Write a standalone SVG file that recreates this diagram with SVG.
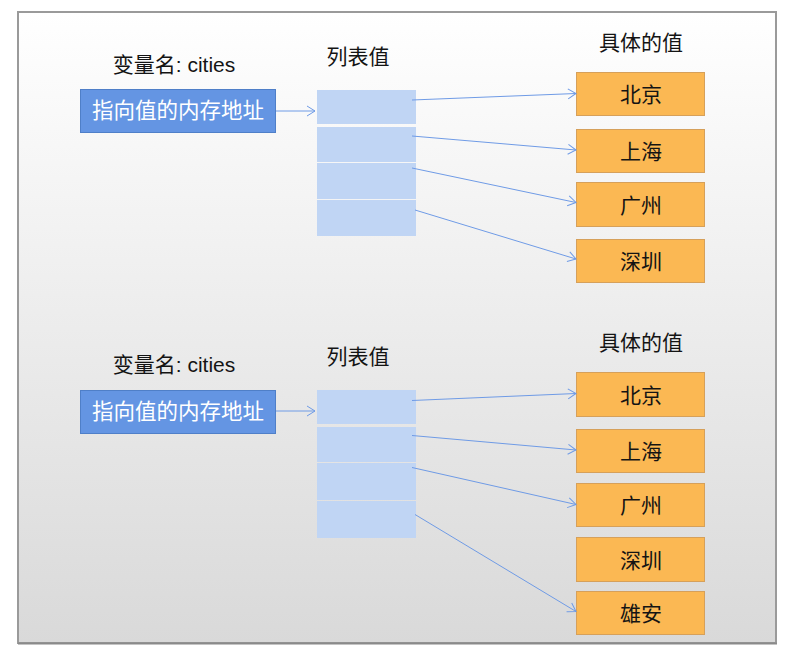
<svg xmlns="http://www.w3.org/2000/svg" width="788" height="654" viewBox="0 0 788 654">
<defs>
<linearGradient id="bg" x1="0" y1="0" x2="0" y2="1">
<stop offset="0" stop-color="#ffffff"/>
<stop offset="1" stop-color="#d9d9d9"/>
</linearGradient>
<marker id="ah" markerUnits="userSpaceOnUse" markerWidth="12" markerHeight="12" refX="9" refY="5" orient="auto" overflow="visible">
<path d="M1,0 L9,5 L1,10" fill="none" stroke="#6f9be6" stroke-width="1"/>
</marker>
<style>
text{font-family:"Noto Sans CJK SC","Liberation Sans",sans-serif;font-size:21px;fill:#141414;text-anchor:middle}
.lbl{font-family:"Liberation Sans","Noto Sans CJK SC",sans-serif;font-size:21px}
.ptr rect{fill:#6495e3;stroke:#4f7fc8;stroke-width:1}
.ptr text{fill:#ffffff;font-size:21.5px}
.cell{fill:#c0d5f4}
.val rect{fill:#fbb853;stroke:#d6a05a;stroke-width:1}
.conn line{stroke:#6f9be6;stroke-width:1;marker-end:url(#ah)}
</style>
</defs>
<rect x="0" y="0" width="788" height="654" fill="#ffffff"/>
<rect x="18" y="12" width="758" height="631" fill="url(#bg)" stroke="#9a9a9a" stroke-width="2"/>
<line x1="18" y1="643.5" x2="777" y2="643.5" stroke="#8a8a8a" stroke-width="2"/>

<!-- top section -->
<g id="label-var-1"><text class="lbl" x="174" y="72">变量名: cities</text></g>
<g id="label-list-1"><text x="358" y="64">列表值</text></g>
<g id="label-values-1"><text x="641" y="50">具体的值</text></g>
<g id="ptr-1" class="ptr"><rect x="80.5" y="89.5" width="195" height="43"/><text x="178" y="118">指向值的内存地址</text></g>
<g id="list-1">
<rect class="cell" x="317" y="90" width="99" height="34"/>
<rect class="cell" x="317" y="127" width="99" height="35"/>
<rect class="cell" x="317" y="163" width="99" height="36"/>
<rect class="cell" x="317" y="200" width="99" height="36"/>
</g>
<g id="v1-bj" class="val"><rect x="576.5" y="72.5" width="128" height="43"/><text x="641" y="102">北京</text></g>
<g id="v1-sh" class="val"><rect x="576.5" y="129.5" width="128" height="43"/><text x="641" y="159">上海</text></g>
<g id="v1-gz" class="val"><rect x="576.5" y="182.5" width="128" height="44"/><text x="641" y="212.5">广州</text></g>
<g id="v1-sz" class="val"><rect x="576.5" y="239.5" width="128" height="43"/><text x="641" y="269">深圳</text></g>

<!-- bottom section -->
<g id="label-var-2"><text class="lbl" x="174" y="372">变量名: cities</text></g>
<g id="label-list-2"><text x="358" y="364">列表值</text></g>
<g id="label-values-2"><text x="641" y="350">具体的值</text></g>
<g id="ptr-2" class="ptr"><rect x="80.5" y="390.5" width="195" height="43"/><text x="178" y="419">指向值的内存地址</text></g>
<g id="list-2">
<rect class="cell" x="317" y="390" width="99" height="34"/>
<rect class="cell" x="317" y="427" width="99" height="35"/>
<rect class="cell" x="317" y="463" width="99" height="37"/>
<rect class="cell" x="317" y="501" width="99" height="37"/>
</g>
<g id="v2-bj" class="val"><rect x="576.5" y="372.5" width="128" height="44"/><text x="641" y="402.5">北京</text></g>
<g id="v2-sh" class="val"><rect x="576.5" y="429.5" width="128" height="43"/><text x="641" y="459">上海</text></g>
<g id="v2-gz" class="val"><rect x="576.5" y="483.5" width="128" height="43"/><text x="641" y="513">广州</text></g>
<g id="v2-sz" class="val"><rect x="576.5" y="537.5" width="128" height="44"/><text x="641" y="567.5">深圳</text></g>
<g id="v2-xa" class="val"><rect x="576.5" y="591.5" width="128" height="43"/><text x="641" y="621">雄安</text></g>

<g id="connectors" class="conn">
<line x1="276" y1="111" x2="315" y2="111"/>
<line x1="412" y1="100" x2="576" y2="93.5"/>
<line x1="412" y1="136" x2="576" y2="150"/>
<line x1="412" y1="168" x2="576" y2="202.5"/>
<line x1="415" y1="210" x2="576" y2="259"/>
<line x1="276" y1="411" x2="315" y2="411"/>
<line x1="412" y1="400.5" x2="576" y2="393.5"/>
<line x1="412" y1="435.5" x2="576" y2="450"/>
<line x1="412" y1="467.5" x2="576" y2="504.5"/>
<line x1="415" y1="514.5" x2="576" y2="611.5"/>
</g>
</svg>
